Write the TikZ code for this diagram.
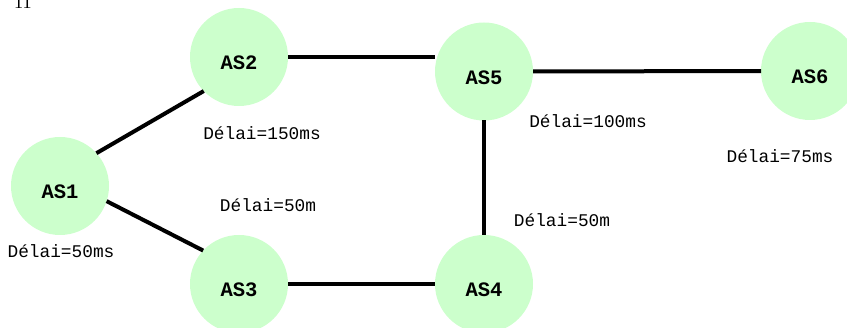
\documentclass[tikz,border=0pt]{standalone}
\usepackage{fontspec}
\setmainfont{Liberation Serif}
\setmonofont{Liberation Mono}
\definecolor{asgreen}{HTML}{CCFFCC}
\tikzset{
  asnode/.style={circle, fill=asgreen, draw=none, minimum size=98pt, inner sep=0pt, outer sep=0pt},
  aslabel/.style={font=\fontsize{20.5}{22}\selectfont\ttfamily\bfseries, inner sep=0pt},
  delay/.style={font=\fontsize{17.8}{20}\selectfont\ttfamily, inner sep=0pt},
  link/.style={line width=4pt, black}
}
\begin{document}
\begin{tikzpicture}[x=1pt,y=-1pt]
\useasboundingbox (0,0) rectangle (847,328);
\node[asnode] (AS1) at (60,186) {};
\node[asnode] (AS2) at (239,57) {};
\node[asnode] (AS3) at (239,284) {};
\node[asnode] (AS4) at (484,284) {};
\node[asnode] (AS5) at (484,71.5) {};
\node[asnode] (AS6) at (810,71) {};
\foreach \n in {1,...,6}{
  \node[aslabel] (t\n) at ([yshift=-6pt]AS\n.center) {AS\n};
}
\draw[link] (AS1.42) -- (AS2.224);
\draw[link] (AS1.-18) -- (AS3.137);
\draw[link] (AS2.east) -- (AS2.east -| AS5.west);
\draw[link] (AS5) -- (AS6);
\draw[link] (AS5) -- (AS4);
\draw[link] (AS3) -- (AS4);
\node[delay] (d150) at (262,133) {Délai=150ms};
\node[delay] (d50a) at (268,205) {Délai=50m};
\node[delay] (d50b) at (562,220) {Délai=50m};
\node[delay] (d100) at (588,121) {Délai=100ms};
\node[delay] (d75) at (780,156) {Délai=75ms};
\node[delay] (d50c) at (61,251) {Délai=50ms};
\node[font=\fontsize{18}{20}\selectfont, inner sep=0pt, anchor=base west] (pg) at (14,9) {11};
\end{tikzpicture}
\end{document}
